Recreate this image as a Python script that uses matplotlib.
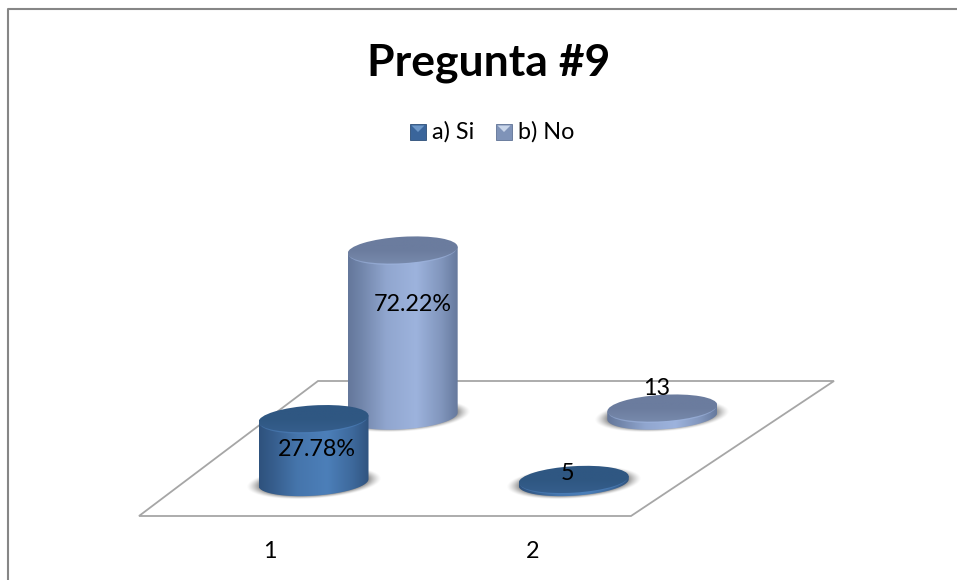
import numpy as np
import matplotlib
matplotlib.use('Agg')
from matplotlib import pyplot as plt
from matplotlib.colors import LinearSegmentedColormap
from matplotlib.patches import Ellipse, PathPatch, Polygon, Rectangle
from matplotlib.path import Path

plt.rcParams['font.family'] = ['Lato', 'DejaVu Sans']

title = "Pregunta #9"
categories = ["1", "2"]
series_names = ["a) Si", "b) No"]
si_values = [27.78, 5]
no_values = [72.22, 13]
si_labels = ["27.78%", "5"]
no_labels = ["72.22%", "13"]

# the first group is in percent and the second in counts, each with its own scale
px_per_unit = [2.3, 0.62]

# floor corners in pixels: front left, front right, back right, back left
FLOOR = np.array([[139, 516], [631, 516], [834, 381], [318, 381]], dtype=float)
RX, RY = 55, 13.2
TILT = -3.5  # degrees, the discs lean slightly up to the right
SLOPE = np.tan(np.radians(TILT))

# body edge, body highlight, cap dark, cap light, legend swatch, swatch triangle
STYLE = {
    0: ("#2c4e78", "#4c7fb9", "#2f5782", "#37608f", "#3a659b", "#6d97c8"),
    1: ("#5f7295", "#9db3dd", "#6b7c9e", "#7a8cae", "#7f93b8", "#c9d6ea"),
}


def project(u, v):
    # u runs along the categories, v from the front of the floor to the back
    front = FLOOR[0] + (FLOOR[1] - FLOOR[0]) * u
    back = FLOOR[3] + (FLOOR[2] - FLOOR[3]) * u
    return front + (back - front) * v


def draw_shadow(ax, cx, cy):
    x0, x1 = cx - RX - 16, cx + RX + 16
    y0, y1 = cy - RY - 10, cy + RY + 10
    xx, yy = np.meshgrid(np.linspace(x0, x1, 200), np.linspace(y0, y1, 90))
    d = np.sqrt(((xx - cx) / (RX + 13)) ** 2 + ((yy - cy - SLOPE * (xx - cx)) / (RY + 3)) ** 2)
    rgba = np.zeros(xx.shape + (4,))
    rgba[..., 3] = np.clip((1 - d) / 0.25, 0, 1) ** 1.4 * 0.6
    ax.imshow(rgba, extent=(x0, x1, y1, y0), aspect='auto', zorder=3, interpolation='bilinear')


def draw_cylinder(ax, cx, cy, h, style, z):
    edge, light, cap_dark, cap_light = style[:4]
    top = cy - h
    lean = SLOPE * RX

    # side wall with a horizontal shine, clipped to the cylinder outline
    t = np.linspace(0, np.pi, 60)
    ex, ey = RX * np.cos(t), RY * np.sin(t)
    low = np.column_stack([cx + ex, cy + ey + SLOPE * ex])
    verts = np.vstack([low, [[cx - RX, top - lean], [cx + RX, top + lean]], low[:1]])
    body = Path(verts, closed=True)
    cmap = LinearSegmentedColormap.from_list("wall", [edge, light])
    shine = np.interp(np.linspace(0, 1, 220), [0, 0.12, 0.35, 0.62, 0.85, 1], [0.08, 0.3, 0.8, 1, 0.55, 0.12])
    im = ax.imshow(cmap(shine)[None, :, :], extent=(cx - RX, cx + RX, cy + RY + 5, top - RY - 5),
                   aspect='auto', zorder=z)
    im.set_clip_path(PathPatch(body, transform=ax.transData))

    # rim highlight just under the front edge of the cap
    rim = Ellipse((cx, top + min(1.4, h * 0.4)), 2 * RX - 2, 2 * RY, angle=TILT, fc=light, ec='none',
                  alpha=0.6, zorder=z + 0.1)
    ax.add_patch(rim)

    # cap, darker at the back
    cmap = LinearSegmentedColormap.from_list("cap", [cap_dark, cap_dark, cap_light])
    im = ax.imshow(cmap(np.linspace(0, 1, 60))[:, None, :],
                   extent=(cx - RX, cx + RX, top + RY + 4, top - RY - 4), aspect='auto', zorder=z + 0.2)
    cap = Ellipse((cx, top), 2 * RX, 2 * RY, angle=TILT, transform=ax.transData)
    im.set_clip_path(cap)


fig = plt.figure(figsize=(9.57, 5.8), dpi=100)
ax = fig.add_axes([0, 0, 1, 1])
ax.set_xlim(0, 957)
ax.set_ylim(580, 0)
ax.axis('off')

# chart frame, only the left and top edges fall inside the image
ax.plot([8, 8, 960], [590, 8.5, 8.5], color="#868686", lw=1.5, zorder=1)

ax.add_patch(Polygon(FLOOR, closed=True, fc='white', ec="#a6a6a6", lw=1.3, zorder=2))

ax.text(489, 63, title, fontsize=32, fontweight='bold', ha='center', va='center', color='black')

# legend
for i, (name, x) in enumerate(zip(series_names, [410, 496])):
    ax.add_patch(Rectangle((x, 124), 16, 16, fc=STYLE[i][4], ec=STYLE[i][0], lw=0.6, zorder=4))
    ax.add_patch(Polygon([[x + 1.5, 125.5], [x + 14.5, 125.5], [x + 8, 132]], closed=True,
                 fc=STYLE[i][5], ec='none', zorder=5))
    ax.text(x + 22, 132, name, fontsize=16.8, ha='left', va='center', color='black')

series_values = [si_values, no_values]
series_labels = [si_labels, no_labels]
# slot of each cylinder on the floor
u_slots = [[0.2613, 0.7839], [0.2574, 0.7667]]
v_slots = [0.248, 0.74]
# label offsets from the middle of each cylinder
label_offsets = [[(3.5, -1.5), (-6.7, -7)], [(10, -29), (-6, -24)]]

for s in [1, 0]:
    for c in range(len(categories)):
        cx, cy = project(u_slots[s][c], v_slots[s])
        h = series_values[s][c] * px_per_unit[c]
        z = 10 - 5 * s + c * 0.5
        draw_shadow(ax, cx, cy)
        draw_cylinder(ax, cx, cy, h, STYLE[s], z)
        dx, dy = label_offsets[s][c]
        ax.text(cx + dx, cy - h / 2 + dy, series_labels[s][c], fontsize=16.8, ha='center', va='center',
                color='black', zorder=20)

# category labels along the front edge
for c, name in enumerate(categories):
    x, y = project([0.265, 0.8][c], 0)
    ax.text(x, y + 36, name, fontsize=16.8, ha='center', va='center', color='black')

ax.set_xlim(0, 957)
ax.set_ylim(580, 0)
fig.savefig('out.png', dpi=100)
